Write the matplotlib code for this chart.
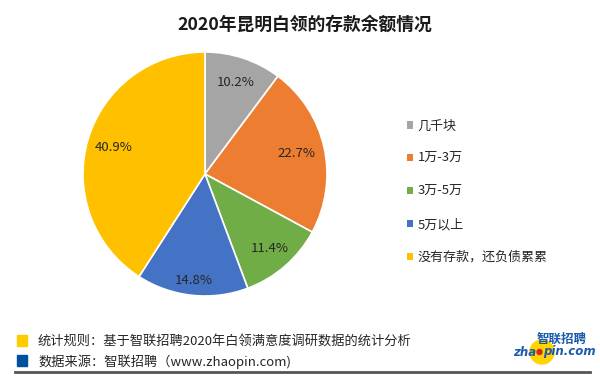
import matplotlib.pyplot as plt
import matplotlib.patches as patches
from matplotlib.lines import Line2D
import numpy as np

plt.rcParams["font.family"] = ["Noto Sans CJK SC", "DejaVu Sans"]

# Data
categories = ["几千块", "1万-3万", "3万-5万", "5万以上", "没有存款，还负债累累"]
shares = [10.2, 22.7, 11.4, 14.8, 40.9]
colors = ["#A5A5A5", "#ED7D31", "#70AD47", "#4472C4", "#FFC000"]
label_dist = [0.79, 0.77, 0.81, 0.88, 0.78]

title = "2020年昆明白领的存款余额情况"
notes = [
    "统计规则：基于智联招聘2020年白领满意度调研数据的统计分析",
    "数据来源：智联招聘（www.zhaopin.com)",
]
note_colors = ["#FFCC00", "#0050A0"]

W, H = 600, 379
fig = plt.figure(figsize=(6, 3.79), dpi=100, facecolor="white")

# Pie axes: centre (205, 174) px, radius 122 px
cx, cy, r = 205, 174, 122
ax = fig.add_axes([(cx - r) / W, (H - cy - r) / H, 2 * r / W, 2 * r / H])
wedges, _ = ax.pie(
    shares,
    colors=colors,
    startangle=90,
    counterclock=False,
    radius=1,
    wedgeprops=dict(edgecolor="white", linewidth=1.2),
)
for w, v, d in zip(wedges, shares, label_dist):
    mid = np.deg2rad((w.theta1 + w.theta2) / 2)
    ax.text(d * np.cos(mid), d * np.sin(mid), f"{v:.1f}%",
            ha="center", va="center", fontsize=9.5, color="#262626")
ax.set_xlim(-1, 1)
ax.set_ylim(-1, 1)
ax.set_aspect("equal")
ax.axis("off")

fig.text(0.5 + 5 / W, 1 - 25 / H, title, ha="center", va="center",
         fontsize=12.8, fontweight="bold", color="#1a1a1a")

# Legend
leg = fig.legend(
    wedges, categories,
    loc="upper left",
    bbox_to_anchor=(400 / W, 1 - 113 / H),
    frameon=False,
    fontsize=9.4,
    handlelength=0.5,
    handleheight=0.5,
    handletextpad=0.35,
    labelspacing=1.52,
    borderpad=0,
)
for t in leg.get_texts():
    t.set_color("#262626")
for h in leg.legend_handles:
    h.set_edgecolor("none")

# Footer notes
for i, (txt, c) in enumerate(zip(notes, note_colors)):
    y = 341 + i * 20
    fig.add_artist(patches.Rectangle((17 / W, 1 - (y + 5) / H), 10 / W, 11 / H,
                                     transform=fig.transFigure, color=c))
    fig.text(38 / W, 1 - (y + 1) / H, txt, ha="left", va="center",
             fontsize=9.5, color="#262626")

fig.add_artist(Line2D([15 / W, 590 / W], [1 - 372 / H] * 2,
                      transform=fig.transFigure, color="#555555", linewidth=2))

# zhaopin logo
fig.add_artist(patches.Circle((5.42, 0.27), 0.12, transform=fig.dpi_scale_trans,
                              color="#FFD400", zorder=1))
fig.add_artist(patches.Circle((5.395, 0.27), 0.025, transform=fig.dpi_scale_trans,
                              color="#D7261E", zorder=3))
fig.text(562 / W, 1 - 339 / H, "智联招聘", ha="center", va="center",
         fontsize=9, fontweight="bold", style="italic", color="#1B5BAA", zorder=4)
fig.text(536 / W, 1 - 352 / H, "zha", ha="right", va="center",
         fontsize=8.5, fontweight="bold", style="italic", color="#1B5BAA",
         family="DejaVu Sans", zorder=4)
fig.text(543 / W, 1 - 352 / H, "pin.com", ha="left", va="center",
         fontsize=8.5, fontweight="bold", style="italic", color="#1B5BAA",
         family="DejaVu Sans", zorder=4)

fig.savefig("out.png", dpi=100, facecolor="white")
